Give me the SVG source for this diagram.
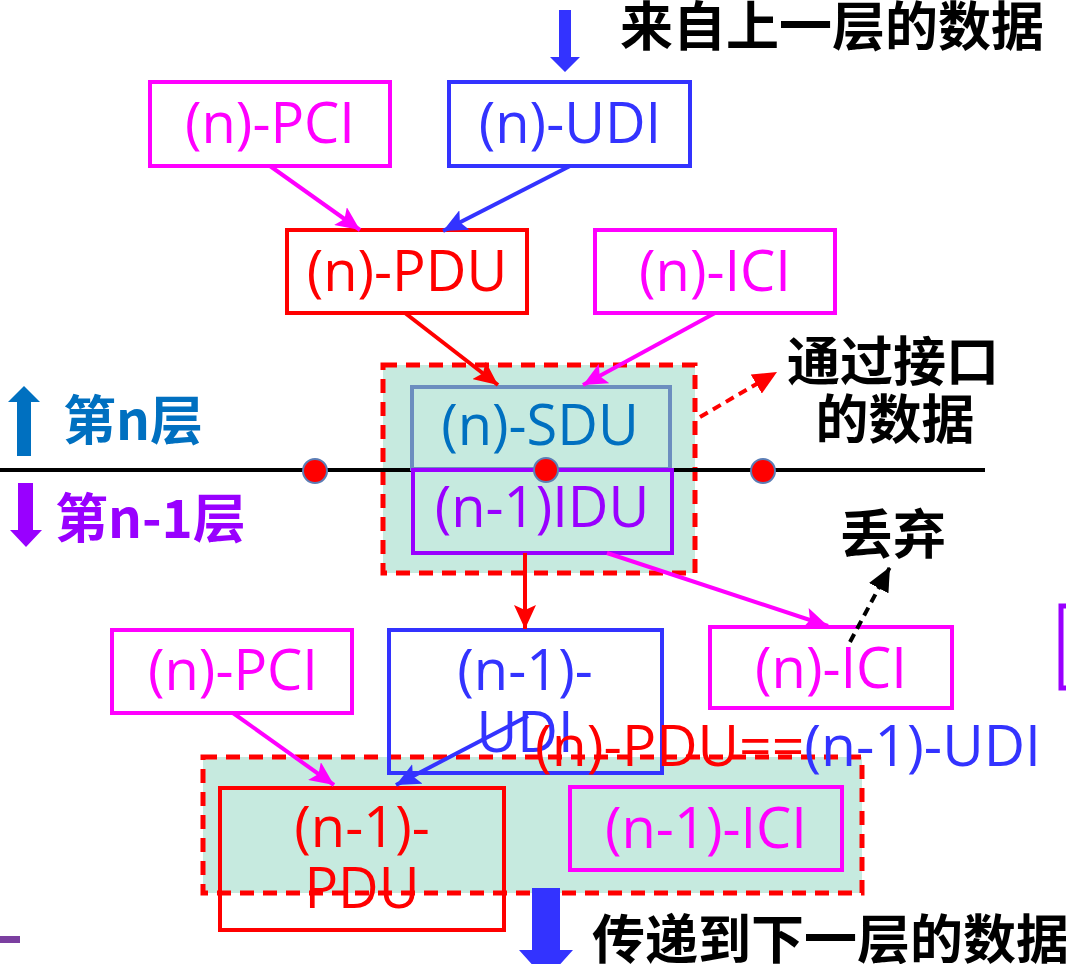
<svg xmlns="http://www.w3.org/2000/svg" width="1066" height="964" viewBox="0 0 1066 964">
<style>
.lbl{font-family:"Open Sans","Noto Sans","Noto Sans CJK SC",sans-serif;font-size:56px;font-weight:500;text-anchor:middle}
.cjk{font-family:"Noto Sans CJK SC","Noto Sans",sans-serif;font-size:53px;font-weight:bold}
.box{fill:none;stroke-width:4}
.grp{fill:#C6EADF;stroke:#FF0000;stroke-width:5;stroke-dasharray:14 9}
.mag{stroke:#FF00FF;color:#FF00FF}
.blu{stroke:#3333FF;color:#3333FF}
.red{stroke:#FF0000;color:#FF0000}
.conn line{stroke-width:4;fill:none}
.dot{fill:#FF0000;stroke:#5B7DB5;stroke-width:2}
</style>
<defs>
<marker id="ah" markerUnits="userSpaceOnUse" markerWidth="26" markerHeight="22" refX="24" refY="11" orient="auto">
<path d="M0,0 L24,11 L0,22 L5,11 Z" fill="context-stroke"/>
</marker>
<marker id="ahr" markerUnits="userSpaceOnUse" markerWidth="26" markerHeight="22" refX="24" refY="11" orient="auto">
<path d="M0,0 L24,11 L0,22 Z" fill="#FF0000"/>
</marker>
<marker id="ahk" markerUnits="userSpaceOnUse" markerWidth="26" markerHeight="22" refX="24" refY="11" orient="auto">
<path d="M0,0 L24,11 L0,22 Z" fill="#000000"/>
</marker>
</defs>

<!-- group backgrounds -->
<rect id="grp-top" class="grp" x="383" y="365" width="312" height="208"/>
<rect id="grp-bottom" class="grp" x="203" y="757" width="659" height="136"/>

<!-- layer line -->
<line x1="0" y1="470" x2="985" y2="470" stroke="#000" stroke-width="4"/>

<!-- top arrow and caption -->
<g id="in-arrow"><path d="M559,10 H571 V57 H580 L565,72 L550,57 H559 Z" fill="#3333FF"/></g>
<text class="cjk" x="620" y="46" fill="#000">来自上一层的数据</text>

<!-- layer labels -->
<g id="layer-n">
<path d="M17,456 V402 H8 L24,386 L40,402 H31 V456 Z" fill="#0070C0"/>
<text class="cjk" x="63" y="440" fill="#0070C0">第n层</text>
</g>
<g id="layer-n1">
<path d="M18,483 H33 V530 H42 L26,547 L10,530 H18 Z" fill="#9900FF"/>
<text class="cjk" x="55" y="538" fill="#9900FF">第n-1层</text>
</g>

<g id="n-pci-top"><rect class="box mag" x="150" y="82" width="240" height="84"/><text class="lbl" x="270" y="143" fill="#FF00FF">(n)-PCI</text></g>
<g id="n-udi"><rect class="box blu" x="449" y="82" width="241" height="84"/><text class="lbl" x="570" y="143" fill="#3333FF">(n)-UDI</text></g>
<g id="n-pdu"><rect class="box red" x="287" y="230" width="240" height="83"/><text class="lbl" x="407" y="291" fill="#FF0000">(n)-PDU</text></g>
<g id="n-ici-top"><rect class="box mag" x="595" y="230" width="240" height="83"/><text class="lbl" x="715" y="291" fill="#FF00FF">(n)-ICI</text></g>

<g id="n-sdu"><rect x="412" y="387" width="258" height="82" fill="none" stroke="#6C8EBF" stroke-width="4"/><text class="lbl" x="540" y="445" fill="#0070C0">(n)-SDU</text></g>
<g id="n1-idu"><rect x="413" y="470" width="259" height="83" fill="none" stroke="#9900FF" stroke-width="4"/><text class="lbl" x="542" y="527" fill="#9900FF">(n-1)IDU</text></g>

<g id="sap-dots">
<circle class="dot" cx="315" cy="471" r="12"/>
<circle class="dot" cx="546" cy="470" r="12"/>
<circle class="dot" cx="763" cy="471" r="12"/>
</g>

<g id="note-interface">
<text class="cjk" x="893" y="381" fill="#000" text-anchor="middle">通过接口</text>
<text class="cjk" x="895" y="439" fill="#000" text-anchor="middle">的数据</text>
</g>
<g id="note-discard"><text class="cjk" x="893" y="554" fill="#000" text-anchor="middle">丢弃</text></g>

<g id="n-pci-bottom"><rect class="box mag" x="112" y="630" width="240" height="83"/><text class="lbl" x="233" y="690" fill="#FF00FF">(n)-PCI</text></g>
<g id="n1-udi"><rect class="box blu" x="389" y="630" width="273" height="143"/><text class="lbl" x="525" y="690" fill="#3333FF">(n-1)-</text><text class="lbl" x="525" y="752" fill="#3333FF">UDI</text></g>
<g id="n-ici-bottom"><rect class="box mag" x="710" y="627" width="242" height="81"/><text class="lbl" x="831" y="688" fill="#FF00FF">(n)-ICI</text></g>
<g id="n1-pdu"><rect class="box red" x="220" y="788" width="284" height="142"/><text class="lbl" x="362" y="847" fill="#FF0000">(n-1)-</text><text class="lbl" x="362" y="908" fill="#FF0000">PDU</text></g>
<g id="n1-ici"><rect class="box mag" x="570" y="787" width="272" height="83"/><text class="lbl" x="706" y="848" fill="#FF00FF">(n-1)-ICI</text></g>

<g id="edge-note"><rect x="1061" y="606" width="20" height="82" fill="none" stroke="#9900FF" stroke-width="5"/></g>

<text id="equation" x="535" y="766" font-family="Open Sans, Noto Sans, sans-serif" font-size="57" font-weight="500"><tspan fill="#FF0000">(n)-PDU==</tspan><tspan fill="#3333FF">(n-1)-UDI</tspan></text>

<g id="connectors" class="conn">
<line class="mag" x1="270" y1="166" x2="360" y2="230" marker-end="url(#ah)"/>
<line class="blu" x1="570" y1="166" x2="443" y2="231" marker-end="url(#ah)"/>
<line class="red" x1="405" y1="313" x2="498" y2="385" marker-end="url(#ah)"/>
<line class="mag" x1="715" y1="313" x2="583" y2="385" marker-end="url(#ah)"/>
<line class="red" x1="525" y1="553" x2="525" y2="629" marker-end="url(#ah)"/>
<line class="mag" x1="607" y1="553" x2="828" y2="626" marker-end="url(#ah)"/>
<line x1="700" y1="417" x2="777" y2="372" stroke="#FF0000" stroke-width="3" stroke-dasharray="9 6" marker-end="url(#ahr)"/>
<line x1="850" y1="642" x2="890" y2="567" stroke="#000" stroke-width="3" stroke-dasharray="9 6" marker-end="url(#ahk)"/>
<line class="mag" x1="233" y1="713" x2="334" y2="785" marker-end="url(#ah)"/>
<line class="blu" x1="528" y1="716" x2="396" y2="785" marker-end="url(#ah)"/>
</g>

<g id="out-arrow"><path d="M532,888 H560 V950 H573 L546,980 L519,950 H532 Z" fill="#3333FF"/></g>
<text class="cjk" x="592" y="959" fill="#000">传递到下一层的数据</text>

<rect id="corner-mark" x="0" y="936" width="20" height="7" fill="#7B3FA0"/>
</svg>
